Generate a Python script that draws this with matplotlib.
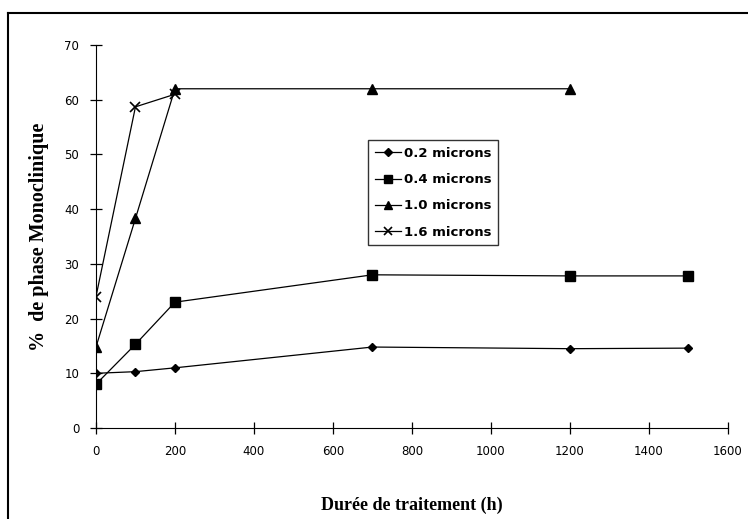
import matplotlib
matplotlib.use("Agg")
import matplotlib.pyplot as plt
from matplotlib.lines import Line2D

# data
heures_02 = [0, 100, 200, 700, 1200, 1500]
phase_02 = [10, 10.3, 11, 14.8, 14.5, 14.6]
heures_04 = [0, 100, 200, 700, 1200, 1500]
phase_04 = [8, 15.3, 23, 28, 27.8, 27.8]
heures_10 = [0, 100, 200, 700, 1200]
phase_10 = [14.8, 38.3, 62, 62, 62]
heures_16 = [0, 100, 200]
phase_16 = [24, 58.7, 61]
x_ticks = [0, 200, 400, 600, 800, 1000, 1200, 1400, 1600]
y_ticks = [0, 10, 20, 30, 40, 50, 60, 70]

fig = plt.figure(figsize=(7.48, 5.19), dpi=100)
ax = fig.add_axes([0.1283, 0.1753, 0.8447, 0.738])

ax.plot(heures_02, phase_02, color="black", lw=0.9, marker="D", ms=4.5, label="0.2 microns")
ax.plot(heures_04, phase_04, color="black", lw=0.9, marker="s", ms=7, label="0.4 microns")
ax.plot(heures_10, phase_10, color="black", lw=0.9, marker="^", ms=7, label="1.0 microns")
ax.plot(heures_16, phase_16, color="black", lw=0.9, marker="x", ms=7, mew=1.2, label="1.6 microns")

ax.set_xlim(0, 1600)
ax.set_ylim(0, 70)
ax.set_xticks(x_ticks)
ax.set_yticks(y_ticks)
ax.spines["top"].set_visible(False)
ax.spines["right"].set_visible(False)
ax.tick_params(direction="inout", length=8, width=0.9, labelsize=8.5, pad=8)
ax.set_xlabel("Durée de traitement (h)", fontsize=13, fontweight="bold",
              family="Liberation Serif", labelpad=28)
ax.set_ylabel("%  de phase Monoclinique", fontsize=14.5, fontweight="bold",
              family="Liberation Serif", labelpad=11)

leg = ax.legend(loc="upper left", bbox_to_anchor=(0.42, 0.768),
                prop={"size": 9.5, "weight": "semibold"},
                frameon=True, fancybox=False, edgecolor="black", handlelength=2.0,
                handletextpad=0.2, borderpad=0.5, labelspacing=1.0, markerscale=0.8)
leg.get_frame().set_linewidth(1.0)

# scan frame lines at left and top
fig.add_artist(Line2D([0.0107, 1.0], [0.975, 0.975], color="black", lw=1.5,
                      transform=fig.transFigure))
fig.add_artist(Line2D([0.0107, 0.0107], [0.0, 0.975], color="black", lw=1.5,
                      transform=fig.transFigure))

fig.savefig("out.png", dpi=100)
